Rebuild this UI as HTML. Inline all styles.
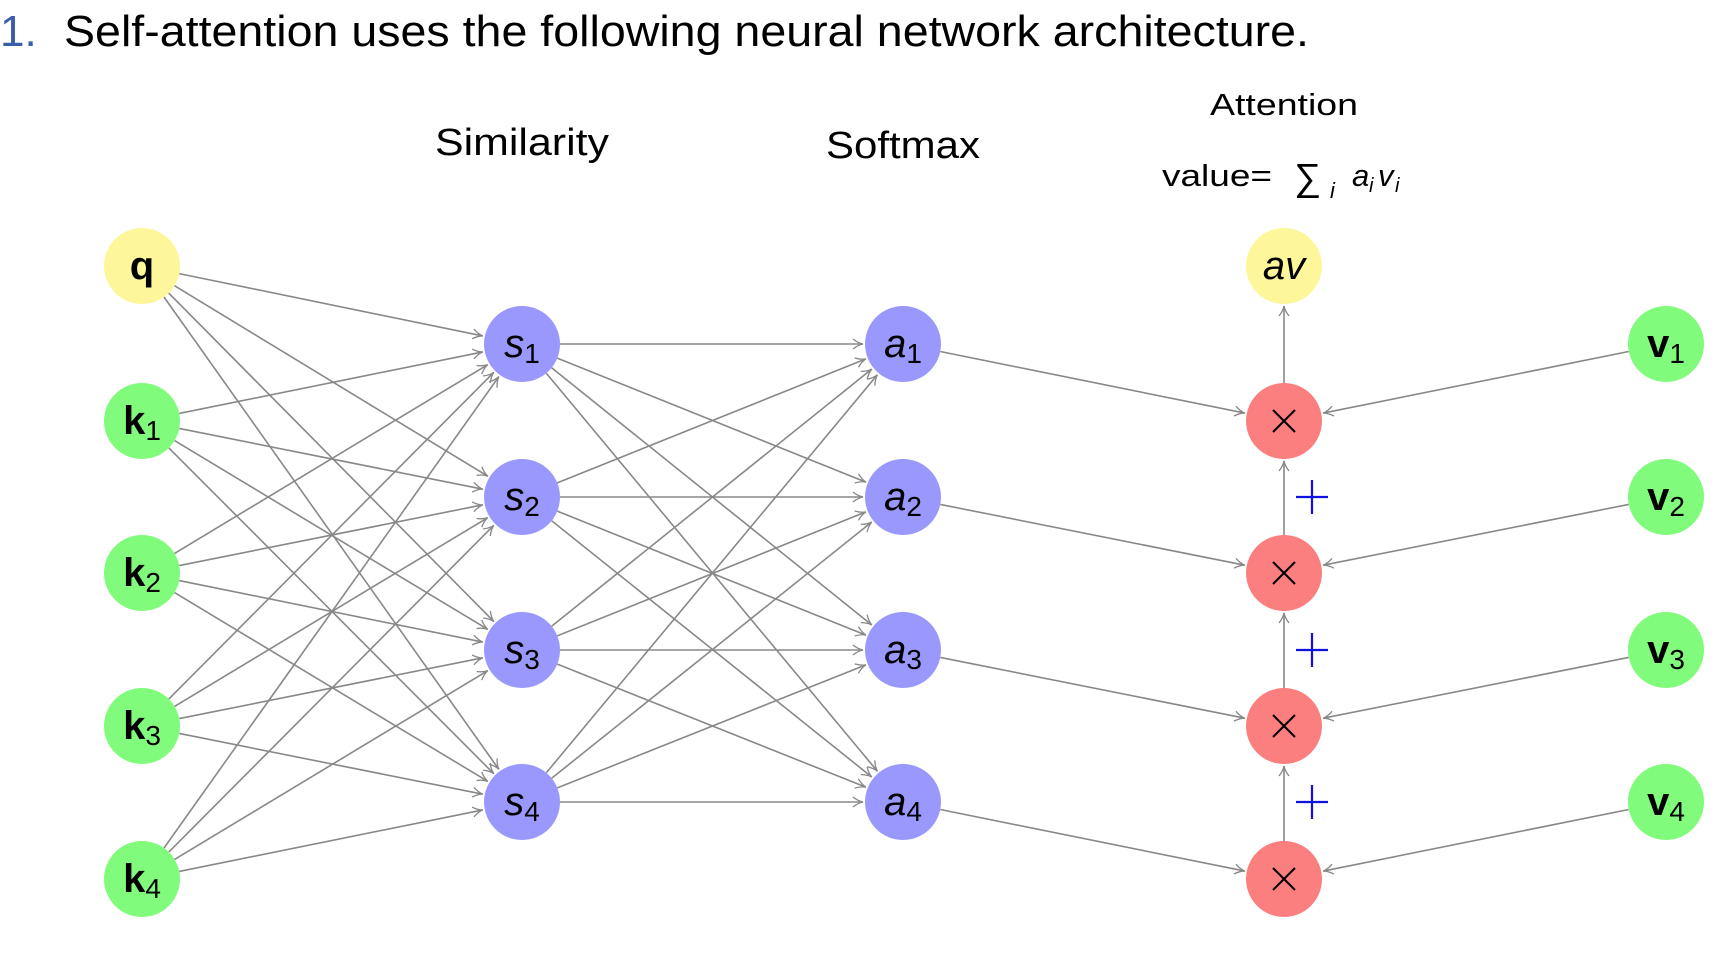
<!DOCTYPE html>
<html><head><meta charset="utf-8"><style>
html,body{margin:0;padding:0;background:#fff;}
svg{display:block;}
text{font-family:"Liberation Sans",sans-serif;}
</style></head><body>
<svg id="s" width="1730" height="960" viewBox="0 0 1730 960" xmlns="http://www.w3.org/2000/svg">
<defs>
<marker id="ar" markerUnits="userSpaceOnUse" markerWidth="16" markerHeight="16" refX="11" refY="6" orient="auto">
<path d="M1,1 Q6,5 11,6 Q6,7 1,11" fill="none" stroke="#888" stroke-width="1.3"/>
</marker>
</defs>
<text x="0" y="46" font-size="44" fill="#3b5ea8">1.</text>
<text x="64" y="46" font-size="44" fill="#000" textLength="1245" lengthAdjust="spacingAndGlyphs">Self-attention uses the following neural network architecture.</text>
<text x="522" y="155" font-size="38" text-anchor="middle" textLength="174" lengthAdjust="spacingAndGlyphs">Similarity</text>
<text x="903" y="158" font-size="38" text-anchor="middle" textLength="154" lengthAdjust="spacingAndGlyphs">Softmax</text>
<text x="1284" y="115" font-size="31" text-anchor="middle" textLength="148" lengthAdjust="spacingAndGlyphs">Attention</text>
<text x="1162" y="186" font-size="31" textLength="110" lengthAdjust="spacingAndGlyphs">value=</text>
<text x="1294" y="190" font-size="38">∑</text>
<text x="1330" y="198" font-size="22" font-style="italic">i</text>
<text x="1352" y="186" font-size="31" font-style="italic">a</text>
<text x="1369" y="192" font-size="20" font-style="italic">i</text>
<text x="1378" y="186" font-size="31" font-style="italic">v</text>
<text x="1395" y="192" font-size="20" font-style="italic">i</text>
<g id="edges" stroke="#888" stroke-width="1.6" fill="none"></g>
<g id="nodes"></g>
</svg>
<script>
var NS="http://www.w3.org/2000/svg",R=38;
var L=142,S=522,A=903,X=1284,V=1666;
var ky=[266,421,573,726,879], sy=[344,497,650,802];
var E=document.getElementById('edges'),N=document.getElementById('nodes');
function line(x1,y1,x2,y2){
 var dx=x2-x1,dy=y2-y1,d=Math.hypot(dx,dy),ux=dx/d,uy=dy/d;
 var l=document.createElementNS(NS,'line');
 l.setAttribute('x1',x1+ux*R);l.setAttribute('y1',y1+uy*R);
 l.setAttribute('x2',x2-ux*(R+2));l.setAttribute('y2',y2-uy*(R+2));
 l.setAttribute('marker-end','url(#ar)');E.appendChild(l);
}
for(var j=0;j<5;j++)for(var i=0;i<4;i++)line(L,ky[j],S,sy[i]);
for(var j=0;j<4;j++)for(var i=0;i<4;i++)line(S,sy[j],A,sy[i]);
for(var i=0;i<4;i++){line(A,sy[i],X,ky[i+1]);line(V,sy[i],X,ky[i+1]);}
for(var i=1;i<4;i++)line(X,ky[i+1],X,ky[i]);
line(X,ky[1],X,ky[0]);
function node(x,y,fill,html){
 var c=document.createElementNS(NS,'circle');
 c.setAttribute('cx',x);c.setAttribute('cy',y);c.setAttribute('r',R);c.setAttribute('fill',fill);N.appendChild(c);
 var t=document.createElementNS(NS,'text');t.setAttribute('x',x);t.setAttribute('y',y+13);
 t.setAttribute('text-anchor','middle');t.setAttribute('font-size','40');t.innerHTML=html;N.appendChild(t);
}
function sub(b,n,w){return '<tspan font-weight="'+(w||'normal')+'" '+(w?'':'font-style="italic"')+'>'+b+'</tspan><tspan font-size="28" dy="6">'+n+'</tspan>';}
node(L,ky[0],'#fdf69a','<tspan font-weight="bold">q</tspan>');
for(var i=1;i<5;i++)node(L,ky[i],'#80fb7c',sub('k',i,'bold'));
for(var i=0;i<4;i++){node(S,sy[i],'#9a98fc',sub('s',i+1));node(A,sy[i],'#9a98fc',sub('a',i+1));node(V,sy[i],'#80fb7c',sub('v',i+1,'bold'));}
node(X,ky[0],'#fdf69a','<tspan font-style="italic">av</tspan>');
for(var i=1;i<5;i++){
 var c=document.createElementNS(NS,'circle');c.setAttribute('cx',X);c.setAttribute('cy',ky[i]);c.setAttribute('r',R);c.setAttribute('fill','#fc7f7f');N.appendChild(c);
 var p=document.createElementNS(NS,'path');p.setAttribute('d','M'+(X-11)+','+(ky[i]-11)+'L'+(X+11)+','+(ky[i]+11)+'M'+(X+11)+','+(ky[i]-11)+'L'+(X-11)+','+(ky[i]+11));
 p.setAttribute('stroke','#000');p.setAttribute('stroke-width','2');N.appendChild(p);
}
for(var i=1;i<4;i++){
 var y=sy[i],px=1312;
 var p=document.createElementNS(NS,'path');p.setAttribute('d','M'+(px-16)+','+y+'L'+(px+16)+','+y+'M'+px+','+(y-17)+'L'+px+','+(y+17));
 p.setAttribute('stroke','#1010e0');p.setAttribute('stroke-width','2.2');N.appendChild(p);
}
</script>
</body></html>
